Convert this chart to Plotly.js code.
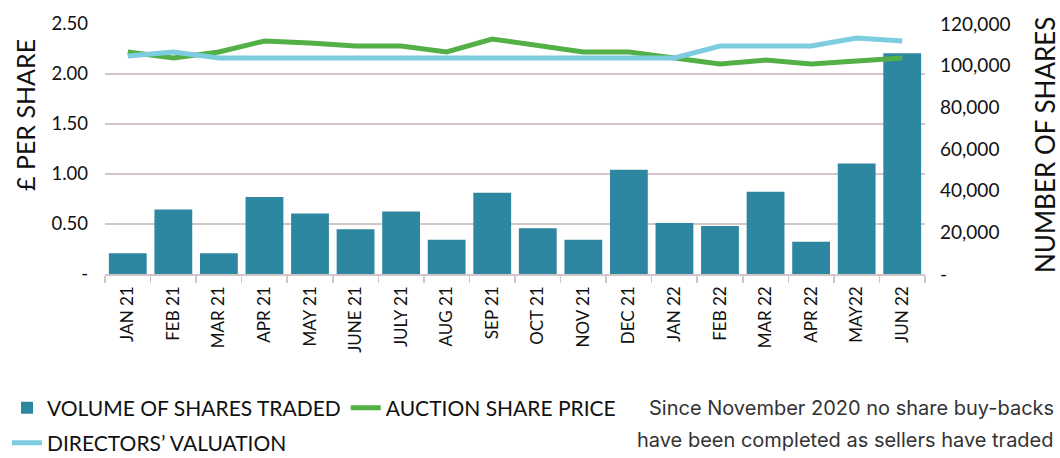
<!DOCTYPE html>
<html>
<head>
<meta charset="utf-8">
<script src="https://cdn.plot.ly/plotly-3.0.1.min.js"></script>
<style>
html,body{margin:0;padding:0;background:#fff;}
#chart{width:1060px;height:458px;}
</style>
</head>
<body>
<div id="chart"></div>
<script>
const months = ["JAN 21","FEB 21","MAR 21","APR 21","MAY 21","JUNE 21","JULY 21","AUG 21","SEP 21","OCT 21","NOV 21","DEC 21","JAN 22","FEB 22","MAR 22","APR 22","MAY22","JUN 22"];
const volumeTraded = [10000,31000,10000,37000,29000,21500,30000,16500,39000,22000,16500,50000,24500,23000,39500,15500,53000,106000];
const auctionPrice = [2.22,2.16,2.22,2.33,2.31,2.28,2.28,2.22,2.35,2.29,2.22,2.22,2.16,2.10,2.14,2.10,2.13,2.16];
const directorsValuation = [2.18,2.22,2.16,2.16,2.16,2.16,2.16,2.16,2.16,2.16,2.16,2.16,2.16,2.28,2.28,2.28,2.36,2.33];
const priceTicks = [0,0.5,1,1.5,2,2.5];
const priceTickText = ["-","0.50","1.00","1.50","2.00","2.50"];
const shareTicks = [0,20000,40000,60000,80000,100000,120000];
const shareTickText = ["-","20,000","40,000","60,000","80,000","100,000","120,000"];
const noteLines = ["Since November 2020 no share buy-backs","have been completed as sellers have traded"];

const FONT = "Lato, 'Open Sans', sans-serif";
const gridC = "#d3c6c9";
// plot area in pixels (for placing texts outside it)
const PL = 105, PR = 925, PT = 24, PB = 274;
const px = v => (v - PL) / (PR - PL);
const py = v => (PB - v) / (PB - PT);

const traces = [
  {type:"bar", name:"VOLUME OF SHARES TRADED", x:months, y:volumeTraded, yaxis:"y",
   marker:{color:"#2e87a0"}, legend:"legend", hoverinfo:"skip"},
  {type:"scatter", mode:"lines", name:"AUCTION SHARE PRICE", x:months, y:auctionPrice, yaxis:"y2",
   line:{color:"#52b046", width:5}, legend:"legend", hoverinfo:"skip"},
  {type:"scatter", mode:"lines", name:"DIRECTORS\u2019 VALUATION", x:months, y:directorsValuation, yaxis:"y2",
   line:{color:"#7dcce0", width:5}, legend:"legend2", hoverinfo:"skip"}
];

const annotations = [
  {text:"\u00a3 PER SHARE", xref:"paper", yref:"paper", x:px(25), y:py(115), xanchor:"center", yanchor:"middle",
   textangle:-90, showarrow:false, font:{family:FONT, size:25, color:"#111"}},
  {text:"NUMBER OF SHARES", xref:"paper", yref:"paper", x:px(1045), y:py(145), xanchor:"center", yanchor:"middle",
   textangle:-90, showarrow:false, font:{family:FONT, size:26, color:"#111"}}
];
const noteY = [408, 440];
noteLines.forEach((t,i)=>{
  annotations.push({text:t, xref:"paper", yref:"paper", x:px(1056), y:py(noteY[i]),
    xanchor:"right", yanchor:"middle", showarrow:false, font:{family:"Inter, Roboto, sans-serif", size:20, color:"#333"}});
});

const layout = {
  width:1060, height:458,
  margin:{l:PL, r:1060-PR, t:PT, b:458-PB},
  paper_bgcolor:"#fff", plot_bgcolor:"#fff",
  bargap:0.17,
  font:{family:FONT, color:"#111"},
  xaxis:{type:"category", tickangle:-90, tickfont:{family:FONT, size:17, color:"#111"},
    showgrid:false, showline:true, linecolor:gridC, linewidth:1.5,
    ticks:"outside", tickson:"boundaries", ticklen:7, tickcolor:gridC, tickwidth:1.5, ticklabelstandoff:4},
  yaxis:{side:"right", range:[0,120000], tickvals:shareTicks, ticktext:shareTickText,
    tickfont:{family:FONT, size:19, color:"#111"}, showgrid:false, zeroline:false, ticklabelstandoff:14, ticks:""},
  yaxis2:{overlaying:"y", side:"left", range:[0,2.5], tickvals:priceTicks, ticktext:priceTickText,
    tickfont:{family:FONT, size:18.5, color:"#111"}, showgrid:true, gridcolor:gridC, gridwidth:1.5,
    zeroline:false, ticklabelstandoff:16, ticks:""},
  legend:{orientation:"h", xref:"container", yref:"container", x:7/1060, y:1-408/458, xanchor:"left", yanchor:"middle",
    font:{family:FONT, size:21, color:"#111"}, itemwidth:30, tracegroupgap:0},
  legend2:{orientation:"h", xref:"container", yref:"container", x:7/1060, y:1-443/458, xanchor:"left", yanchor:"middle",
    font:{family:FONT, size:21, color:"#111"}, itemwidth:30},
  showlegend:true,
  annotations:annotations
};

Plotly.newPlot("chart", traces, layout, {displayModeBar:false, staticPlot:true});
</script>
</body>
</html>
